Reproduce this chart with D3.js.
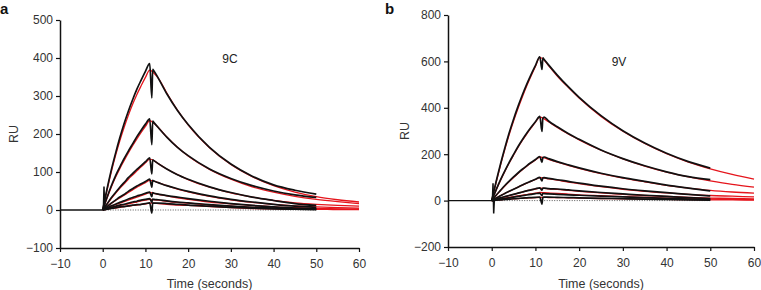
<!DOCTYPE html>
<html>
<head>
<meta charset="utf-8">
<script src="https://cdn.jsdelivr.net/npm/d3@7"></script>
<style>
  body { margin: 0; background: #fff; }
  svg { display: block; font-family: "Liberation Sans", Arial, sans-serif; }
</style>
</head>
<body>
<div id="chart"></div>
<script>
// sample times for measured curves (black) and fitted curves (red)
const dataTimes = [0, 1, 2, 3, 4, 5, 6, 7, 8, 9, 10, 11, 11.5, 11.7, 12, 13, 15, 17.5, 20, 25, 30, 35, 40, 45, 50];
const fitTimes = [0, 1, 2, 3, 4, 5, 6, 7, 8, 9, 10, 11, 12, 13, 15, 17.5, 20, 25, 30, 35, 40, 45, 50, 55, 60];
const baselineTimes = [-10, 0];
const refLineTimes = [0, 50];
const spikeTimes = [0.15, 0.3, 0.45, 0.6];
const xTicks = [-10, 0, 10, 20, 30, 40, 50, 60];

// panel a: 9C
const ticksA = [-100, 0, 100, 200, 300, 400, 500];
const dataA = [
  [0, 55, 105, 149, 190, 227, 260, 290, 318, 342, 365, 385, 295, 370, 366, 347, 306, 262, 225, 165, 121, 89, 66, 52, 42],
  [0, 33, 63, 90, 113, 135, 155, 174, 193, 210, 226, 240, 172, 234, 230, 217, 192, 165, 143, 108, 83, 64, 50, 40, 33],
  [0, 16, 32, 46, 60, 72, 85, 96, 107, 117, 127, 137, 95, 132, 130, 122, 108, 93, 81, 61, 46, 34, 25, 17, 12],
  [0, 9, 18, 26, 34, 41, 49, 56, 63, 69, 75, 81, 60, 78, 76, 72, 64, 56, 49, 37, 28, 21, 15, 10, 7],
  [0, 5, 11, 15, 20, 24, 29, 33, 37, 40, 44, 47, 35, 46, 44, 42, 38, 34, 30, 23, 17, 12, 8, 5, 4],
  [0, 3, 7, 10, 13, 15, 18, 21, 23, 26, 28, 30, 20, 29, 28, 27, 24, 21, 19, 14, 10, 7, 5, 3, 2],
  [0, 2, 4, 6, 8, 9, 11, 13, 14, 15, 17, 19, -8, 19, 18, 18, 17, 15, 13, 10, 7, 5, 3, 2, 1]
];
const fitA = [
  [0, 52, 100, 143, 182, 217, 249, 278, 304, 327, 349, 368, 360, 347, 308, 263, 224, 164, 120, 88, 64, 47, 35, 27, 21],
  [0, 31, 60, 86, 109, 130, 150, 169, 187, 204, 220, 235, 228, 217, 192, 165, 142, 107, 81, 61, 47, 36, 28, 22, 17],
  [0, 15, 30, 44, 57, 69, 81, 92, 103, 114, 124, 134, 130, 122, 108, 93, 80, 60, 45, 34, 25, 19, 15, 12, 10],
  [0, 8, 17, 25, 32, 39, 46, 53, 60, 66, 72, 78, 76, 72, 64, 55, 48, 36, 27, 20, 15, 11, 8, 6, 5],
  [0, 5, 9, 14, 18, 22, 26, 30, 34, 38, 42, 46, 44, 41, 37, 32, 28, 21, 16, 12, 8, 6, 4, 3, 2],
  [0, 3, 6, 9, 11, 14, 16, 19, 21, 24, 26, 28, 27, 26, 23, 20, 18, 13, 10, 7, 5, 4, 3, 2, 2],
  [0, 2, 4, 5, 7, 9, 10, 12, 13, 15, 16, 18, 18, 17, 15, 13, 12, 9, 6, 4, 3, 2, 2, 1, 1]
];
const spikeA = [0, 62, 8, 4];

// panel b: 9V
const ticksB = [-200, 0, 200, 400, 600, 800];
const dataB = [
  [0, 81, 157, 227, 292, 351, 405, 455, 501, 543, 582, 620, 565, 615, 608, 585, 541, 491, 445, 366, 301, 248, 204, 168, 140],
  [0, 46, 89, 128, 165, 199, 232, 262, 290, 316, 340, 363, 298, 355, 360, 343, 318, 289, 264, 218, 181, 150, 124, 103, 90],
  [0, 23, 44, 65, 84, 102, 119, 135, 150, 164, 177, 190, 165, 185, 188, 181, 168, 154, 141, 118, 99, 83, 67, 54, 42],
  [0, 11, 21, 31, 40, 49, 58, 67, 76, 84, 92, 100, 85, 98, 99, 96, 90, 83, 75, 62, 51, 42, 34, 27, 20],
  [0, 6, 12, 17, 22, 27, 32, 37, 42, 46, 51, 55, 45, 54, 54, 52, 50, 46, 42, 35, 29, 23, 18, 13, 9],
  [0, 3, 6, 9, 12, 15, 18, 21, 24, 27, 30, 32, 22, 31, 30, 29, 27, 25, 23, 19, 16, 13, 10, 7, 5],
  [0, 2, 3, 5, 6, 8, 9, 11, 12, 13, 14, 15, -15, 14, 15, 15, 14, 13, 12, 10, 8, 6, 5, 3, 2]
];
const fitB = [
  [0, 78, 152, 221, 285, 343, 397, 447, 494, 537, 578, 617, 605, 582, 537, 488, 442, 363, 299, 246, 202, 166, 137, 113, 93],
  [0, 45, 87, 126, 162, 196, 229, 259, 287, 313, 338, 360, 352, 340, 315, 287, 262, 217, 180, 149, 123, 102, 85, 70, 58],
  [0, 22, 43, 63, 82, 100, 117, 133, 148, 162, 175, 188, 184, 178, 166, 152, 139, 116, 97, 81, 66, 54, 44, 37, 32],
  [0, 11, 21, 31, 40, 49, 58, 67, 75, 83, 91, 99, 97, 94, 88, 80, 73, 60, 49, 40, 33, 27, 22, 19, 16],
  [0, 6, 12, 17, 22, 27, 32, 37, 42, 46, 50, 54, 53, 51, 48, 44, 40, 33, 27, 22, 18, 14, 11, 9, 7],
  [0, 4, 7, 11, 14, 17, 20, 23, 26, 29, 32, 35, 34, 33, 31, 28, 25, 21, 17, 14, 11, 9, 7, 5, 4],
  [0, 2, 3, 5, 6, 8, 9, 10, 11, 12, 13, 14, 14, 13, 13, 12, 11, 9, 8, 6, 5, 4, 3, 3, 2]
];
const spikeB = [0, 75, -55, 2];

const svg = d3.select("#chart")
    .append("svg")
    .attr("width", 761)
    .attr("height", 290);

function drawPanel(p) {
    const x = d3.scaleLinear().domain([-10, 60]).range([p.left, p.right]);
    const y = d3.scaleLinear().domain(p.yDomain).range([p.bottom, p.top]);
    const g = svg.append("g");

    const line = d3.line()
        .x(d => x(d[0]))
        .y(d => y(d[1]))
        .curve(d3.curveMonotoneX);

    // fitted curves underneath
    p.fits.forEach(vals => {
        g.append("path")
            .datum(fitTimes.map((t, i) => [t, vals[i]]))
            .attr("fill", "none")
            .attr("stroke", "#e5151c")
            .attr("stroke-width", 1.3)
            .attr("d", line);
    });

    // dotted zero reference
    g.append("path")
        .datum(refLineTimes.map(t => [t, 0]))
        .attr("fill", "none")
        .attr("stroke", "#555")
        .attr("stroke-width", 1)
        .attr("stroke-dasharray", "1,1.5")
        .attr("d", line);

    // pre-injection baseline
    g.append("path")
        .datum(baselineTimes.map(t => [t, 0]))
        .attr("fill", "none")
        .attr("stroke", "#111")
        .attr("stroke-width", 1.4)
        .attr("d", line);

    // measured curves
    p.data.forEach(vals => {
        g.append("path")
            .datum(dataTimes.map((t, i) => [t, vals[i]]))
            .attr("fill", "none")
            .attr("stroke", "#111")
            .attr("stroke-width", 1.7)
            .attr("d", line);
    });

    // injection artefact
    g.append("path")
        .datum(spikeTimes.map((t, i) => [t, p.spike[i]]))
        .attr("fill", "none")
        .attr("stroke", "#111")
        .attr("stroke-width", 1.5)
        .attr("d", d3.line().x(d => x(d[0])).y(d => y(d[1])));

    // axes
    const xAxis = g.append("g")
        .attr("transform", `translate(0,${p.bottom})`)
        .call(d3.axisBottom(x).tickValues(xTicks).tickSize(4).tickSizeOuter(0));
    const yAxis = g.append("g")
        .attr("transform", `translate(${p.left},0)`)
        .call(d3.axisLeft(y).tickValues(p.yTicks).tickSize(4).tickSizeOuter(0));

    [xAxis, yAxis].forEach(ax => {
        ax.select(".domain").attr("stroke", "#111").attr("stroke-width", 1.5);
        ax.selectAll(".tick line").attr("stroke", "#111").attr("stroke-width", 1.2);
        ax.selectAll("text")
            .attr("fill", "#333")
            .style("font-size", "12px")
            .style("font-family", "Liberation Sans, Arial, sans-serif");
    });
    xAxis.selectAll("text").attr("dy", "1.05em");
    yAxis.selectAll("text").attr("x", -7);

    // labels
    svg.append("text")
        .attr("x", p.letterX)
        .attr("y", 14)
        .attr("font-size", 15)
        .attr("font-weight", "bold")
        .attr("fill", "#111")
        .text(p.letter);

    svg.append("text")
        .attr("x", p.nameX)
        .attr("y", p.nameY)
        .attr("text-anchor", "middle")
        .attr("font-size", 12)
        .attr("fill", "#222")
        .text(p.name);

    svg.append("text")
        .attr("transform", `translate(${p.ruX},${(p.top + p.bottom) / 2}) rotate(-90)`)
        .attr("text-anchor", "middle")
        .attr("dy", "0.35em")
        .attr("font-size", 12.5)
        .attr("fill", "#333")
        .text("RU");

    svg.append("text")
        .attr("x", x(25))
        .attr("y", 288)
        .attr("text-anchor", "middle")
        .attr("font-size", 12.5)
        .attr("fill", "#333")
        .text("Time (seconds)");
}

drawPanel({
    letter: "a", letterX: 0, name: "9C", nameX: 230, nameY: 63, ruX: 14,
    left: 60, right: 359, top: 20, bottom: 248,
    yDomain: [-100, 500], yTicks: ticksA, data: dataA, fits: fitA, spike: spikeA
});

drawPanel({
    letter: "b", letterX: 385, name: "9V", nameX: 619, nameY: 66, ruX: 405,
    left: 448, right: 754, top: 15, bottom: 247,
    yDomain: [-200, 800], yTicks: ticksB, data: dataB, fits: fitB, spike: spikeB
});
</script>
</body>
</html>
